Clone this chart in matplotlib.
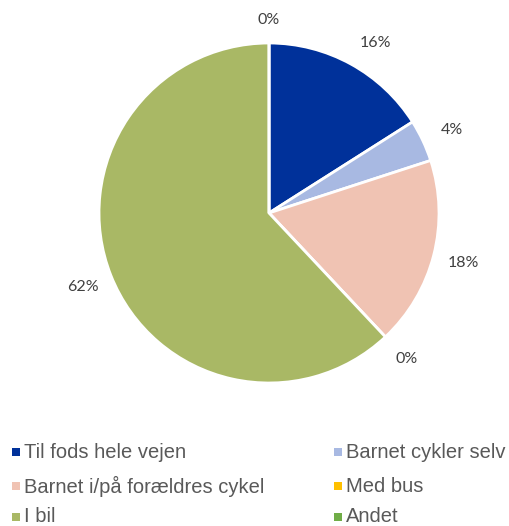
import numpy as np
import matplotlib
matplotlib.use("Agg")
import matplotlib.pyplot as plt
from matplotlib.patches import Rectangle

categories = ["Til fods hele vejen", "Barnet cykler selv", "Barnet i/på forældres cykel",
              "Med bus", "I bil", "Andet"]
shares = [16, 4, 18, 0, 62, 0]
colors = ["#00319A", "#A8B9E2", "#F0C3B3", "#FFC000", "#A9B865", "#70AD47"]

W, H = 509, 526
fig = plt.figure(figsize=(W / 100, H / 100), dpi=100)

cx, cy, r = 269, 213, 170
ax = fig.add_axes([(cx - r) / W, (H - cy - r) / H, 2 * r / W, 2 * r / H])
wedges, texts, autotexts = ax.pie(
    shares, colors=colors, startangle=90, counterclock=False,
    autopct=lambda p: f"{p:.0f}%", pctdistance=1.18,
    wedgeprops=dict(edgecolor="white", linewidth=2),
    textprops=dict(fontsize=11.5, color="#404040", family="Lato"),
)

# small nudges for the labels near the top of the pie
def place(t, angle_deg, dist):
    a = np.deg2rad(90 - angle_deg)
    t.set_position((dist * np.cos(a), dist * np.sin(a)))

place(autotexts[0], 32, 1.18)
place(autotexts[1], 65.5, 1.18)
place(autotexts[5], 0, 1.135)

ax.set_xlim(-1, 1)
ax.set_ylim(-1, 1)
ax.set_aspect("equal")
ax.axis("off")

# two-column legend below the pie
col_x = [12, 334]
row_y = [452, 486, 517]
for i, (label, c) in enumerate(zip(categories, colors)):
    x = col_x[i % 2]
    y = row_y[i // 2]
    fig.patches.append(Rectangle((x / W, (H - y - 4) / H), 8 / W, 8 / H,
                                 transform=fig.transFigure, facecolor=c,
                                 edgecolor="none"))
    fig.text((x + 12) / W, (H - y) / H, label, fontsize=14.5,
             family="Liberation Sans", color="#595959", va="center", ha="left")

fig.savefig("out.png", dpi=100)
